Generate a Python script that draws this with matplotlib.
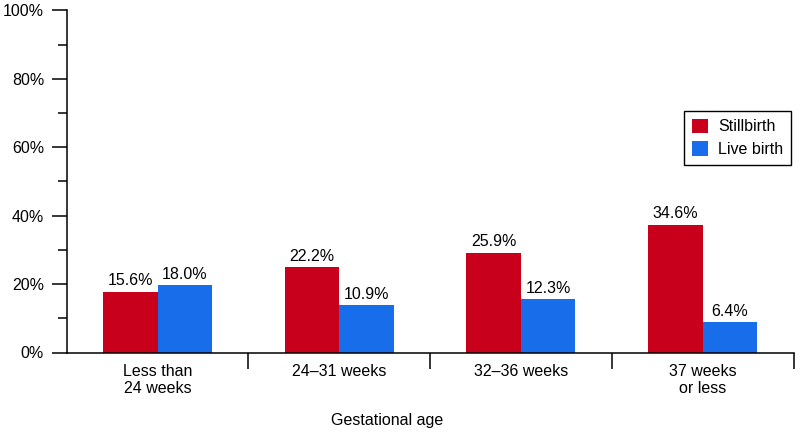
import matplotlib
matplotlib.use("Agg")
import matplotlib.pyplot as plt
import numpy as np
from matplotlib.ticker import MultipleLocator, FixedLocator, FuncFormatter

plt.rcParams['font.family'] = ['Liberation Sans', 'DejaVu Sans']

categories = ["Less than\n24 weeks", "24\u201331 weeks", "32\u201336 weeks", "37 weeks\nor less"]
series_names = ["Stillbirth", "Live birth"]
# bar heights as drawn in the picture (percent)
stillbirth = [17.7, 24.9, 29.1, 37.3]
live_birth = [19.7, 13.8, 15.6, 8.9]
# value labels printed above the bars
stillbirth_labels = ["15.6%", "22.2%", "25.9%", "34.6%"]
live_birth_labels = ["18.0%", "10.9%", "12.3%", "6.4%"]
y_ticks = [0, 20, 40, 60, 80, 100]

red = "#C9001B"
blue = "#186DEB"
fs = 11.5

fig = plt.figure(figsize=(8, 4.34), dpi=100)
ax = fig.add_axes([66.7/800, 1-352.5/434, (793.5-66.7)/800, (352.5-10.3)/434])

x = np.arange(len(categories)) + 0.5
w = 0.30
b1 = ax.bar(x - w/2, stillbirth, w, color=red, label=series_names[0], linewidth=0)
b2 = ax.bar(x + w/2, live_birth, w, color=blue, label=series_names[1], linewidth=0)

for bars, labs in ((b1, stillbirth_labels), (b2, live_birth_labels)):
    for r, t in zip(bars, labs):
        ax.annotate(t, (r.get_x() + r.get_width()/2, r.get_height()),
                    xytext=(0, 2.5), textcoords="offset points",
                    ha="center", va="bottom", fontsize=fs)

ax.set_xlim(0, len(categories))
ax.set_ylim(0, 100)
ax.set_yticks(y_ticks)
ax.yaxis.set_major_formatter(FuncFormatter(lambda v, p: f"{int(v)}%"))
ax.yaxis.set_minor_locator(MultipleLocator(10))
ax.tick_params(axis="y", which="major", length=10.8, width=1.1, pad=5.5, labelsize=fs)
ax.tick_params(axis="y", which="minor", length=6.5, width=1.1)

ax.set_xticks(x)
ax.set_xticklabels(categories)
ax.xaxis.set_minor_locator(FixedLocator([1, 2, 3, 4]))
ax.tick_params(axis="x", which="major", length=0, pad=8, labelsize=fs)
ax.tick_params(axis="x", which="minor", length=11.5, width=1.1)

for s in ("top", "right"):
    ax.spines[s].set_visible(False)
for s in ("left", "bottom"):
    ax.spines[s].set_linewidth(1.1)

fig.text(387/800, 1-420/434, "Gestational age", ha="center", va="center", fontsize=fs)

leg = ax.legend(loc="upper right", bbox_to_anchor=(791/800, 1-110.7/434),
                bbox_transform=fig.transFigure, fontsize=fs, fancybox=False,
                edgecolor="black", framealpha=1, handlelength=1.0, handleheight=1.0,
                handletextpad=0.6, borderpad=0.5, labelspacing=0.45, borderaxespad=0)
leg.get_frame().set_linewidth(1.0)

fig.savefig("out.png", dpi=100)
